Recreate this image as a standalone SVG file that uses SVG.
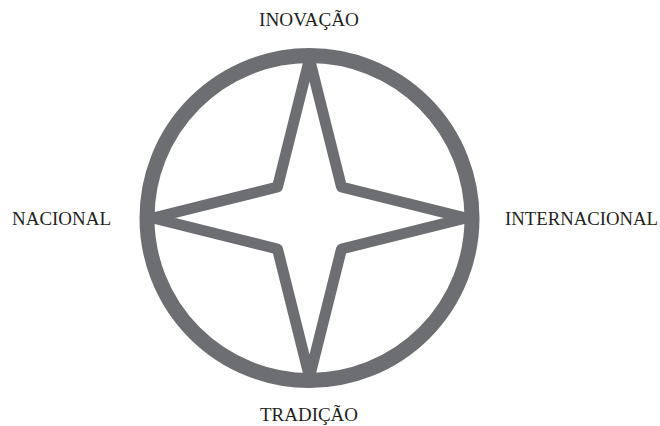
<svg xmlns="http://www.w3.org/2000/svg" width="660" height="426" viewBox="0 0 660 426">
<style>
.lbl{font-family:"Liberation Serif","Times New Roman",serif;font-size:18px;fill:#231f20}
.ring{fill:none;stroke:#6d6e71;stroke-width:15}
.star{fill:none;stroke:#6d6e71;stroke-width:11;stroke-linejoin:round}
</style>
<rect width="660" height="426" fill="#ffffff"/>
<g id="connectors">
<circle class="ring" cx="309.5" cy="218" r="162.5"/>
<path class="star" d="M309.5,59 L341.5,187 L466,218 L341.5,249 L309.5,377 L277.5,249 L153,218 L277.5,187 Z"/>
</g>
<g id="inovacao"><text class="lbl" x="259" y="26" textLength="100" lengthAdjust="spacingAndGlyphs">INOVAÇÃO</text></g>
<g id="nacional"><text class="lbl" x="12" y="225" textLength="99" lengthAdjust="spacingAndGlyphs">NACIONAL</text></g>
<g id="internacional"><text class="lbl" x="505" y="225" textLength="153" lengthAdjust="spacingAndGlyphs">INTERNACIONAL</text></g>
<g id="tradicao"><text class="lbl" x="260" y="421" textLength="98" lengthAdjust="spacingAndGlyphs">TRADIÇÃO</text></g>
</svg>
